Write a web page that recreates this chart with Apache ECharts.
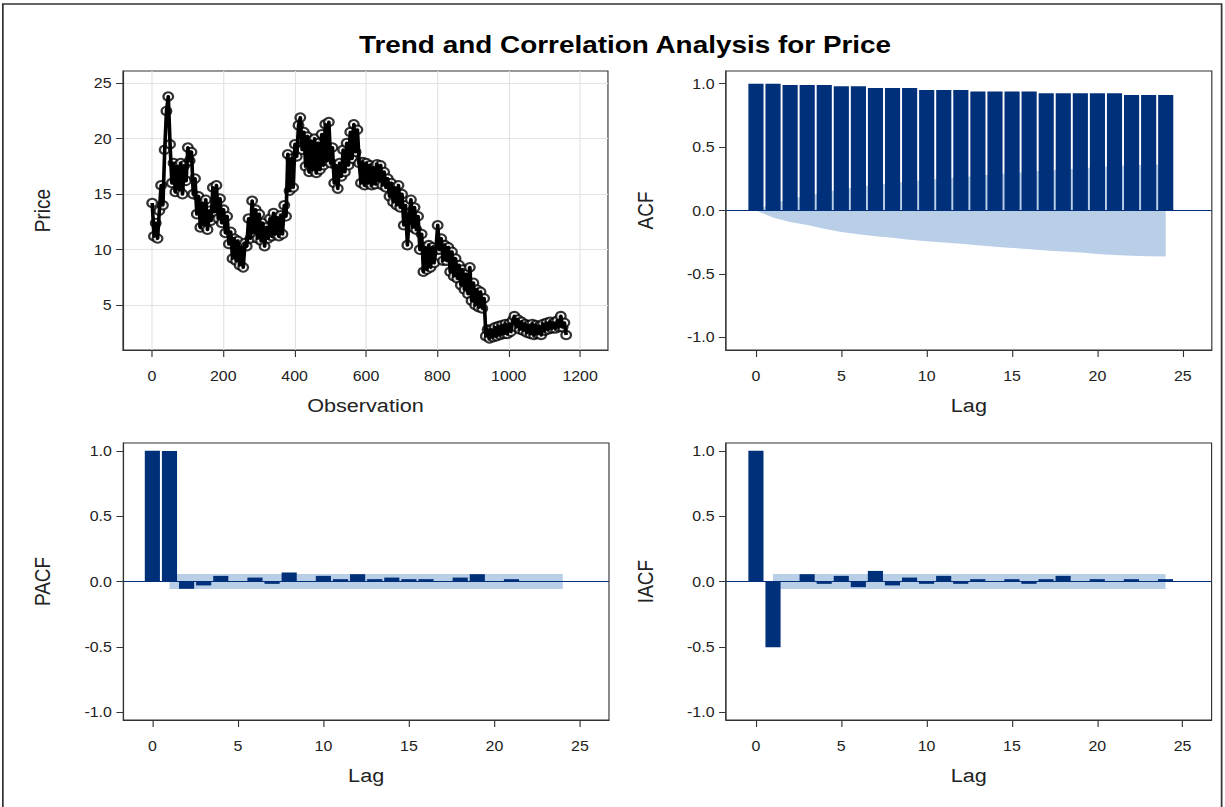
<!DOCTYPE html>
<html>
<head>
<meta charset="utf-8">
<script src="https://cdn.jsdelivr.net/npm/echarts@6/dist/echarts.min.js"></script>
<style>
html, body { margin: 0; padding: 0; background: #fff; overflow: hidden; }
#wrap { width: 1225px; height: 807px; overflow: hidden; }
#chart { width: 1076px; height: 807px; transform: scaleX(1.1385); transform-origin: 0 0; }
</style>
</head>
<body>
<div id="wrap"><div id="chart"></div></div>
<script>
// ---------------- data ----------------
const TITLE = 'Trend and Correlation Analysis for Price';

const priceObsStart = 1;
const priceObsStep = 5;
const price = [
  14.2, 11.2, 12.4, 11.0, 13.5, 15.8, 14.0, 19.0, 22.5, 23.8,
  19.5, 16.0, 17.8, 15.2, 17.5, 15.4, 17.8, 15.0, 17.6, 16.2,
  19.2, 18.0, 18.8, 15.0, 16.4, 13.2, 14.8, 12.0, 14.2, 12.2,
  14.5, 11.8, 13.5, 12.6, 15.6, 13.4, 15.8, 12.8, 14.6, 12.4,
  13.6, 11.5, 13.0, 10.5, 11.6, 9.2, 11.0, 9.0, 10.8, 8.6,
  10.2, 8.4, 10.6, 10.3, 12.8, 11.0, 14.4, 11.5, 13.6, 11.0,
  13.2, 10.8, 12.4, 10.3, 12.0, 11.0, 12.8, 11.2, 13.3, 11.4,
  12.9, 11.2, 13.1, 11.4, 14.0, 13.0, 18.6, 15.3, 18.2, 15.6,
  19.5, 18.4, 21.2, 21.9, 19.0, 20.6, 17.5, 20.2, 17.0, 19.8,
  17.2, 20.0, 16.9, 19.6, 17.2, 20.4, 17.6, 21.3, 18.0, 21.5,
  17.8, 19.2, 16.0, 17.6, 15.5, 17.8, 16.6, 19.0, 17.0, 19.6,
  17.6, 20.6, 18.2, 21.3, 18.8, 20.8, 17.8, 16.0, 17.9, 15.8,
  17.8, 16.0, 17.6, 15.8, 17.4, 15.9, 17.7, 16.2, 17.6, 15.8,
  17.0, 15.6, 16.4, 14.8, 16.0, 14.3, 15.6, 14.0, 15.8, 13.8,
  15.0, 12.2, 14.0, 10.4, 12.8, 14.5, 12.0, 13.8, 11.8, 13.0,
  10.0, 11.4, 8.0, 10.2, 8.2, 10.4, 8.4, 10.2, 8.8, 10.0,
  12.2, 10.0, 11.0, 9.0, 10.4, 9.0, 10.2, 8.0, 9.8, 7.6,
  9.2, 7.4, 8.6, 6.8, 8.2, 6.4, 7.8, 6.0, 8.4, 5.4,
  7.0, 5.0, 6.4, 4.8, 6.2, 4.7, 5.6, 2.2, 2.8, 2.0,
  2.8, 2.1, 3.0, 2.2, 3.1, 2.3, 3.2, 2.4, 3.3, 2.4,
  3.3, 2.6, 3.6, 4.0, 3.0, 3.7, 2.8, 3.5, 2.7, 3.3,
  2.5, 3.2, 2.4, 3.3, 2.3, 3.2, 2.4, 3.1, 2.3, 3.3,
  2.7, 3.4, 2.8, 3.5, 2.9, 3.4, 2.9, 3.6, 3.0, 4.0,
  3.0, 3.4, 2.3
];

const lags = [0,1,2,3,4,5,6,7,8,9,10,11,12,13,14,15,16,17,18,19,20,21,22,23,24];

const acf = [1.0, 0.999, 0.99, 0.99, 0.99, 0.979, 0.979, 0.966, 0.966, 0.966,
  0.951, 0.951, 0.951, 0.938, 0.938, 0.938, 0.938, 0.924, 0.924, 0.924,
  0.924, 0.924, 0.911, 0.911, 0.911];

// lower two-standard-error limit of the ACF (upper limit is its mirror)
const acfBandLower = [0, -0.055, -0.09, -0.115, -0.143, -0.17, -0.188, -0.203, -0.215, -0.23,
  -0.243, -0.252, -0.262, -0.274, -0.285, -0.295, -0.305, -0.316, -0.324, -0.332,
  -0.343, -0.35, -0.357, -0.36, -0.362];

const pacf = [1.0, 0.999, -0.056, -0.03, 0.043, 0.004, 0.03, -0.018, 0.069, 0.004,
  0.043, 0.018, 0.056, 0.018, 0.03, 0.018, 0.018, 0.004, 0.03, 0.056,
  0.004, 0.018, 0.004, 0.004, 0.004];

const iacf = [1.0, -0.503, 0.004, 0.056, -0.018, 0.043, -0.043, 0.081, -0.03, 0.03,
  -0.018, 0.043, -0.018, 0.018, 0.004, 0.018, -0.018, 0.018, 0.043, 0.004,
  0.018, 0.004, 0.018, 0.004, 0.018];

const pacfBandLags = [1, 24];
const pacfBand = 0.058;
const iacfBandLags = [1, 24];
const iacfBand = 0.058;

const obsTicks = [0, 200, 400, 600, 800, 1000, 1200];
const priceTicks = [5, 10, 15, 20, 25];
const lagTicks = [0, 5, 10, 15, 20, 25];
const corrTicks = [-1, -0.5, 0, 0.5, 1];

// ---------------- styling ----------------
const FONT = "'Liberation Sans', Arial, Helvetica, sans-serif";
const BAR = '#00307A';
const BAND = '#B9CFE8';
const FRAME = '#333333';
const TEXT = '#222222';

function xAxisDef(gi, min, max, splitNumber, ticks, name, showSplit, fmt) {
  return {
    type: 'value', gridIndex: gi, min: min, max: max, splitNumber: splitNumber,
    axisLine: { show: true, onZero: false, lineStyle: { color: FRAME, width: 1 } },
    axisTick: { show: true, inside: false, length: 7, customValues: ticks, lineStyle: { color: FRAME, width: 1 } },
    axisLabel: { customValues: ticks, margin: 19, fontSize: 14, color: TEXT, fontFamily: FONT, formatter: fmt },
    splitLine: { show: showSplit, lineStyle: { color: '#e2e2e2', width: 1 } },
    name: name, nameLocation: 'middle', nameGap: 46,
    nameTextStyle: { fontSize: 19, color: TEXT, fontFamily: FONT }
  };
}
function yAxisDef(gi, min, max, splitNumber, ticks, name, showSplit, fmt) {
  return {
    type: 'value', gridIndex: gi, min: min, max: max, splitNumber: splitNumber,
    axisLine: { show: true, onZero: false, lineStyle: { color: FRAME, width: 1 } },
    axisTick: { show: true, inside: false, length: 6, customValues: ticks, lineStyle: { color: FRAME, width: 1 } },
    axisLabel: { customValues: ticks, margin: 10, fontSize: 14, color: TEXT, fontFamily: FONT, formatter: fmt },
    splitLine: { show: showSplit, lineStyle: { color: '#e2e2e2', width: 1 } },
    name: name, nameLocation: 'middle', nameGap: 61,
    nameTextStyle: { fontSize: 19, color: TEXT, fontFamily: FONT }
  };
}
const intFmt = v => String(Math.round(v));
const corrFmt = v => Number(v).toFixed(1);

function pairs(xs, ys) { return xs.map((x, i) => [x, ys[i]]); }
function zeroLine() {
  return {
    silent: true, symbol: ['none', 'none'], label: { show: false },
    lineStyle: { color: BAR, width: 1, type: 'solid' },
    emphasis: { disabled: true },
    data: [{ yAxis: 0 }]
  };
}
function bandSeries(gi, data) {
  return {
    type: 'line', xAxisIndex: gi, yAxisIndex: gi, data: data,
    symbol: 'none', silent: true, z: 1,
    lineStyle: { width: 0, color: BAND },
    areaStyle: { color: BAND, opacity: 1, origin: 'auto' },
    animation: false
  };
}
function barSeries(gi, data) {
  return {
    type: 'bar', xAxisIndex: gi, yAxisIndex: gi, data: data,
    barWidth: 13.3, z: 3, silent: true,
    itemStyle: { color: BAR },
    markLine: zeroLine(),
    animation: false
  };
}

const priceData = price.map((v, i) => [priceObsStart + i * priceObsStep, v]);
const acfUpper = acfBandLower.map(v => -v);

const option = {
  backgroundColor: '#ffffff',
  animation: false,
  title: {
    text: TITLE, left: 544, top: 27, textAlign: 'center',
    textStyle: { fontSize: 24.5, fontWeight: 'bold', color: '#000', fontFamily: FONT }
  },
  graphic: [{
    type: 'rect', silent: true, z: -10,
    shape: { x: 2.5, y: 4, width: 1070.5, height: 812 },
    style: { fill: 'none', stroke: '#333', lineWidth: 1.5 }
  }],
  grid: [
    { left: 108, top: 71, width: 426, height: 279, show: true, borderColor: FRAME, borderWidth: 1, backgroundColor: '#fff' },
    { left: 637.6, top: 71, width: 426.8, height: 279, show: true, borderColor: FRAME, borderWidth: 1, backgroundColor: '#fff' },
    { left: 108.3, top: 443, width: 426.6, height: 277, show: true, borderColor: FRAME, borderWidth: 1, backgroundColor: '#fff' },
    { left: 637.6, top: 443, width: 426.6, height: 277, show: true, borderColor: FRAME, borderWidth: 1, backgroundColor: '#fff' }
  ],
  xAxis: [
    xAxisDef(0, -81, 1278, 7, obsTicks, 'Observation', true, intFmt),
    xAxisDef(1, -1.76, 26.7, 6, lagTicks, 'Lag', false, intFmt),
    xAxisDef(2, -1.7, 26.7, 6, lagTicks, 'Lag', false, intFmt),
    xAxisDef(3, -1.76, 26.7, 6, lagTicks, 'Lag', false, intFmt)
  ],
  yAxis: [
    yAxisDef(0, 0.95, 26.1, 5, priceTicks, 'Price', true, intFmt),
    yAxisDef(1, -1.1, 1.1, 4, corrTicks, 'ACF', false, corrFmt),
    yAxisDef(2, -1.06, 1.06, 4, corrTicks, 'PACF', false, corrFmt),
    yAxisDef(3, -1.06, 1.06, 4, corrTicks, 'IACF', false, corrFmt)
  ],
  series: [
    {
      // hollow circle markers for each observation read
      type: 'scatter', xAxisIndex: 0, yAxisIndex: 0, data: priceData,
      symbol: 'emptyCircle', symbolSize: 8.5, silent: true,
      itemStyle: { color: '#000', borderColor: '#000', borderWidth: 1.8 },
      z: 2, animation: false
    },
    {
      // joining line drawn over the markers
      type: 'line', xAxisIndex: 0, yAxisIndex: 0, data: priceData,
      symbol: 'none', silent: true,
      lineStyle: { color: '#000', width: 3.2, join: 'round' },
      z: 3, animation: false
    },
    bandSeries(1, pairs(lags, acfUpper)),
    bandSeries(1, pairs(lags, acfBandLower)),
    barSeries(1, pairs(lags, acf)),
    bandSeries(2, pacfBandLags.map(l => [l, pacfBand])),
    bandSeries(2, pacfBandLags.map(l => [l, -pacfBand])),
    barSeries(2, pairs(lags, pacf)),
    bandSeries(3, iacfBandLags.map(l => [l, iacfBand])),
    bandSeries(3, iacfBandLags.map(l => [l, -iacfBand])),
    barSeries(3, pairs(lags, iacf))
  ]
};

const chart = echarts.init(document.getElementById('chart'), null, { renderer: 'svg' });
chart.setOption(option);
</script>
</body>
</html>
